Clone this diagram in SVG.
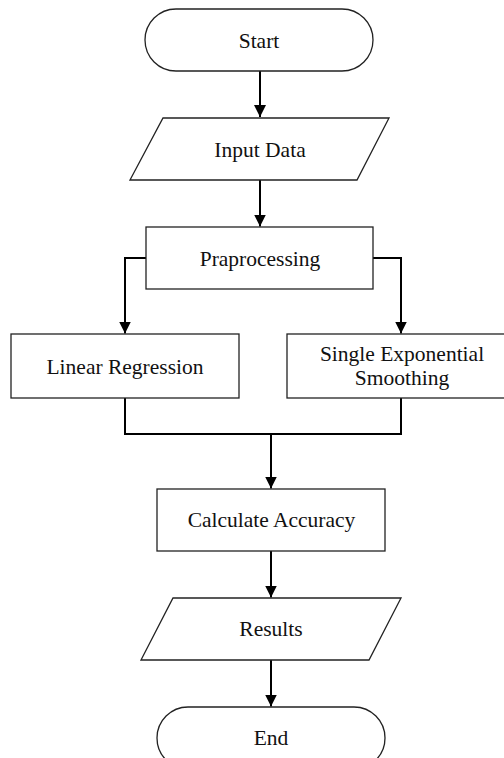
<svg xmlns="http://www.w3.org/2000/svg" width="504" height="758" viewBox="0 0 504 758">
  <defs>
    <marker id="arrow" markerUnits="userSpaceOnUse" markerWidth="12" markerHeight="12" refX="12" refY="6" orient="auto">
      <path d="M0,0 L12,6 L0,12 Z" fill="#000"/>
    </marker>
    <style>
      .shape { fill: #fff; stroke: #222; stroke-width: 1.3; }
      .label { font-family: "Liberation Serif", "Times New Roman", serif; font-size: 21.5px; fill: #111; text-anchor: middle; }
      .edge { fill: none; stroke: #000; stroke-width: 2; }
    </style>
  </defs>
  <rect width="504" height="758" fill="#fff"/>

  <g id="connectors">
    <path class="edge" d="M260,71 V117" marker-end="url(#arrow)"/>
    <path class="edge" d="M260,180 V226.5" marker-end="url(#arrow)"/>
    <path class="edge" d="M146,258 H125 V333.5" marker-end="url(#arrow)"/>
    <path class="edge" d="M373,258 H401 V333.5" marker-end="url(#arrow)"/>
    <path class="edge" d="M125,398 V434 H401 V398"/>
    <path class="edge" d="M271,434 V488.5" marker-end="url(#arrow)"/>
    <path class="edge" d="M271,551 V597.5" marker-end="url(#arrow)"/>
    <path class="edge" d="M271,660 V706.5" marker-end="url(#arrow)"/>
  </g>

  <g id="start">
    <rect class="shape" x="145" y="9" width="228" height="62" rx="31" ry="31"/>
    <text class="label" x="259" y="47.5">Start</text>
  </g>

  <g id="input-data">
    <polygon class="shape" points="163,118 389,118 357,180 130,180"/>
    <text class="label" x="260" y="156.5">Input Data</text>
  </g>

  <g id="praprocessing">
    <rect class="shape" x="146" y="227" width="227" height="62"/>
    <text class="label" x="260" y="266">Praprocessing</text>
  </g>

  <g id="linear-regression">
    <rect class="shape" x="11" y="334" width="228" height="64"/>
    <text class="label" x="125" y="374">Linear Regression</text>
  </g>

  <g id="single-exponential-smoothing">
    <rect class="shape" x="287" y="334" width="230" height="64"/>
    <text class="label" x="402" y="361">Single Exponential</text>
    <text class="label" x="402" y="385">Smoothing</text>
  </g>

  <g id="calculate-accuracy">
    <rect class="shape" x="157" y="489" width="228" height="62"/>
    <text class="label" x="271.5" y="527">Calculate Accuracy</text>
  </g>

  <g id="results">
    <polygon class="shape" points="173,598 401,598 369,660 141,660"/>
    <text class="label" x="271" y="636">Results</text>
  </g>

  <g id="end">
    <rect class="shape" x="157" y="707" width="228" height="62" rx="31" ry="31"/>
    <text class="label" x="271" y="745">End</text>
  </g>
</svg>
